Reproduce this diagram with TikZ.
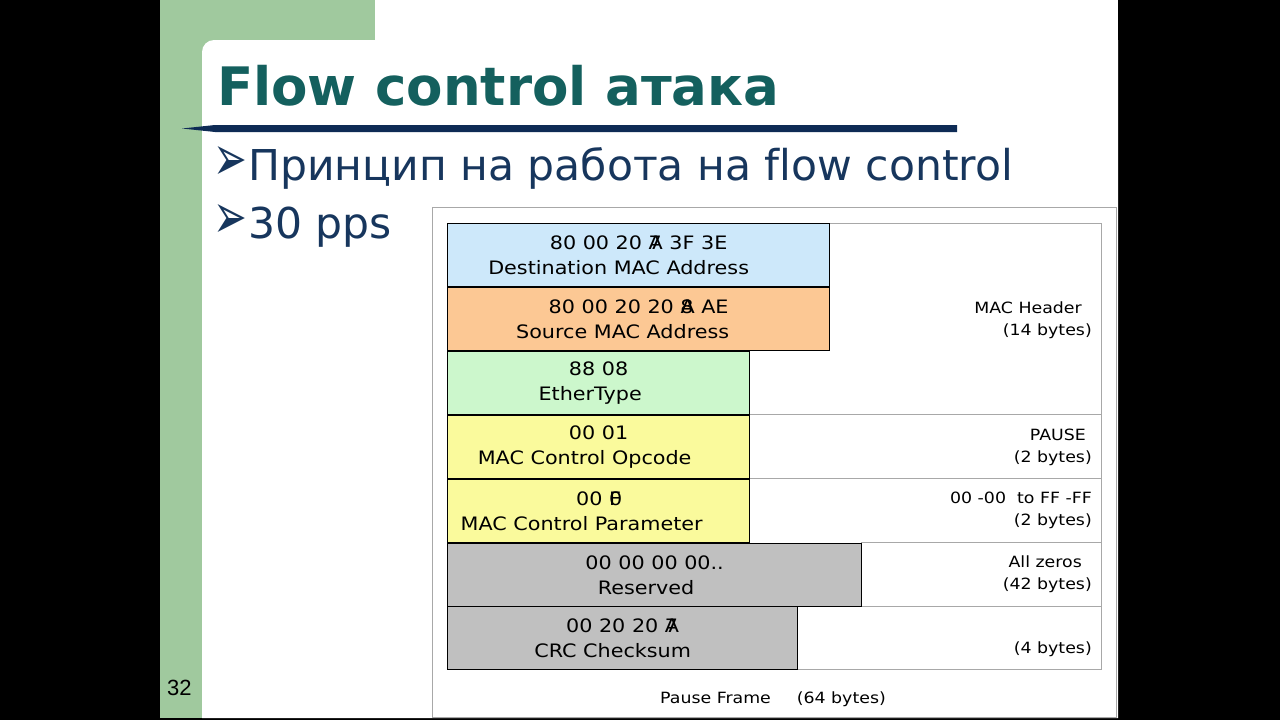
\documentclass[tikz,border=0pt]{standalone}
\usepackage{fontspec}
\setmainfont{DejaVu Sans}[Ligatures=NoCommon]
\newfontfamily\figfont{DejaVu Sans}[FakeStretch=1.12]
\newfontfamily\numfont{Liberation Sans}
\usepackage{xcolor}
\usepackage{graphicx}

\definecolor{slidegreen}{HTML}{A0C99E}
\definecolor{titleteal}{HTML}{14605E}
\definecolor{rulenavy}{HTML}{0E2B55}
\definecolor{bodynavy}{HTML}{17365D}
\definecolor{destblue}{HTML}{CDE8FA}
\definecolor{srcpeach}{HTML}{FCC894}
\definecolor{typegreen}{HTML}{CCF7CC}
\definecolor{ctrlyellow}{HTML}{FAFA9C}
\definecolor{resgray}{HTML}{C0C0C0}
\definecolor{framegray}{HTML}{A8A8A8}

\newcommand{\ovl}[2]{\rlap{#1}#2}
\newcommand{\lft}[2]{#2\hspace*{#1pt}}

\begin{document}
\begin{tikzpicture}[x=1pt,y=-1pt,
  field/.style={draw=black,line width=1.3pt,anchor=north west,minimum height=63,
    inner sep=0,align=center,font=\figfont\fontsize{18.5}{25}\selectfont},
  sidenote/.style={anchor=north east,inner sep=0,align=right,
    font=\figfont\fontsize{15.5}{21.5}\selectfont},
  bodyline/.style={anchor=base west,inner sep=0,text=bodynavy,
    font=\fontsize{42.5}{42.5}\selectfont},
  gridline/.style={draw=framegray,line width=0.8pt}]
\useasboundingbox (0,0) rectangle (1280,720);
\fill[black] (0,0) rectangle (1280,720);
\fill[white] (160,0) rectangle (1118,718);
% green corner of the slide
\fill[slidegreen] (160,0) rectangle (375,56);
\fill[slidegreen] (160,0) rectangle (202,718);
\fill[white] (202,718) [rounded corners=12] -- (202,40) [sharp corners] -- (1118,40) -- (1118,718) -- cycle;

\node[anchor=base west,inner sep=0,text=titleteal,font=\bfseries\fontsize{53}{53}\selectfont] (title) at (217,105) {Flow control атака};
\fill[rulenavy] (182,128.5) -- (215,125) -- (957,125) -- (957,132) -- (215,132) -- cycle;

\node[bodyline] (mark1) at (213,180) {\scalebox{0.95}[1.5]{➢}};
\node[bodyline] (line1) at (248,180) {Принцип на работа на flow control};
\node[bodyline] (mark2) at (213,238) {\scalebox{0.95}[1.5]{➢}};
\node[bodyline] (line2) at (248,238) {30 pps};

% pause frame figure
\draw[framegray,line width=1pt] (432,207) rectangle (1116,717);
\draw[gridline] (829,223) -- (1101,223) -- (1101,669) -- (797,669);
\draw[gridline] (749,414) -- (1101,414);
\draw[gridline] (749,478) -- (1101,478);
\draw[gridline] (861,542) -- (1101,542);
\draw[gridline] (861,606) -- (1101,606);

\node[field,fill=destblue,minimum width=382] (dest) at (447,223) {80 00 20 \ovl{7}{A} 3F 3E\\\lft{40}{Destination MAC Address}};
\node[field,fill=srcpeach,minimum width=382] (src) at (447,287) {80 00 20 20 \ovl{8}{A} AE\\\lft{32}{Source MAC Address}};
\node[field,fill=typegreen,minimum width=302] (etype) at (447,351) {88 08\\\lft{17}{EtherType}};
\node[field,fill=ctrlyellow,minimum width=302] (opcode) at (447,415) {00 01\\\lft{28}{MAC Control Opcode}};
\node[field,fill=ctrlyellow,minimum width=302] (param) at (447,479) {00 \ovl{0}{F}\\\lft{34}{MAC Control Parameter}};
\node[field,fill=resgray,minimum width=414] (resv) at (447,543) {00 00 00 00..\\\lft{17}{Reserved}};
\node[field,fill=resgray,minimum width=350] (crc) at (447,606) {00 20 20 \ovl{7}{A}\\\lft{20}{CRC Checksum}};

\node[sidenote] (hdrnote) at (1092,302) {MAC Header\hspace*{10pt}\\(14 bytes)};
\node[sidenote] (opnote) at (1092,429) {PAUSE\hspace*{6pt}\\(2 bytes)};
\node[sidenote] (parnote) at (1092,492) {00 -00~ to FF -FF\\(2 bytes)};
\node[sidenote] (resnote) at (1092,556) {All zeros\hspace*{10pt}\\(42 bytes)};
\node[sidenote] (crcnote) at (1092,642) {(4 bytes)};
\node[anchor=base west,inner sep=0,font=\figfont\fontsize{15.5}{15.5}\selectfont] (caption) at (660,703) {Pause Frame\hspace{26pt}(64 bytes)};

\node[anchor=base west,inner sep=0,font=\numfont\fontsize{22}{22}\selectfont] (pagenum) at (167,695) {32};
\end{tikzpicture}
\end{document}
